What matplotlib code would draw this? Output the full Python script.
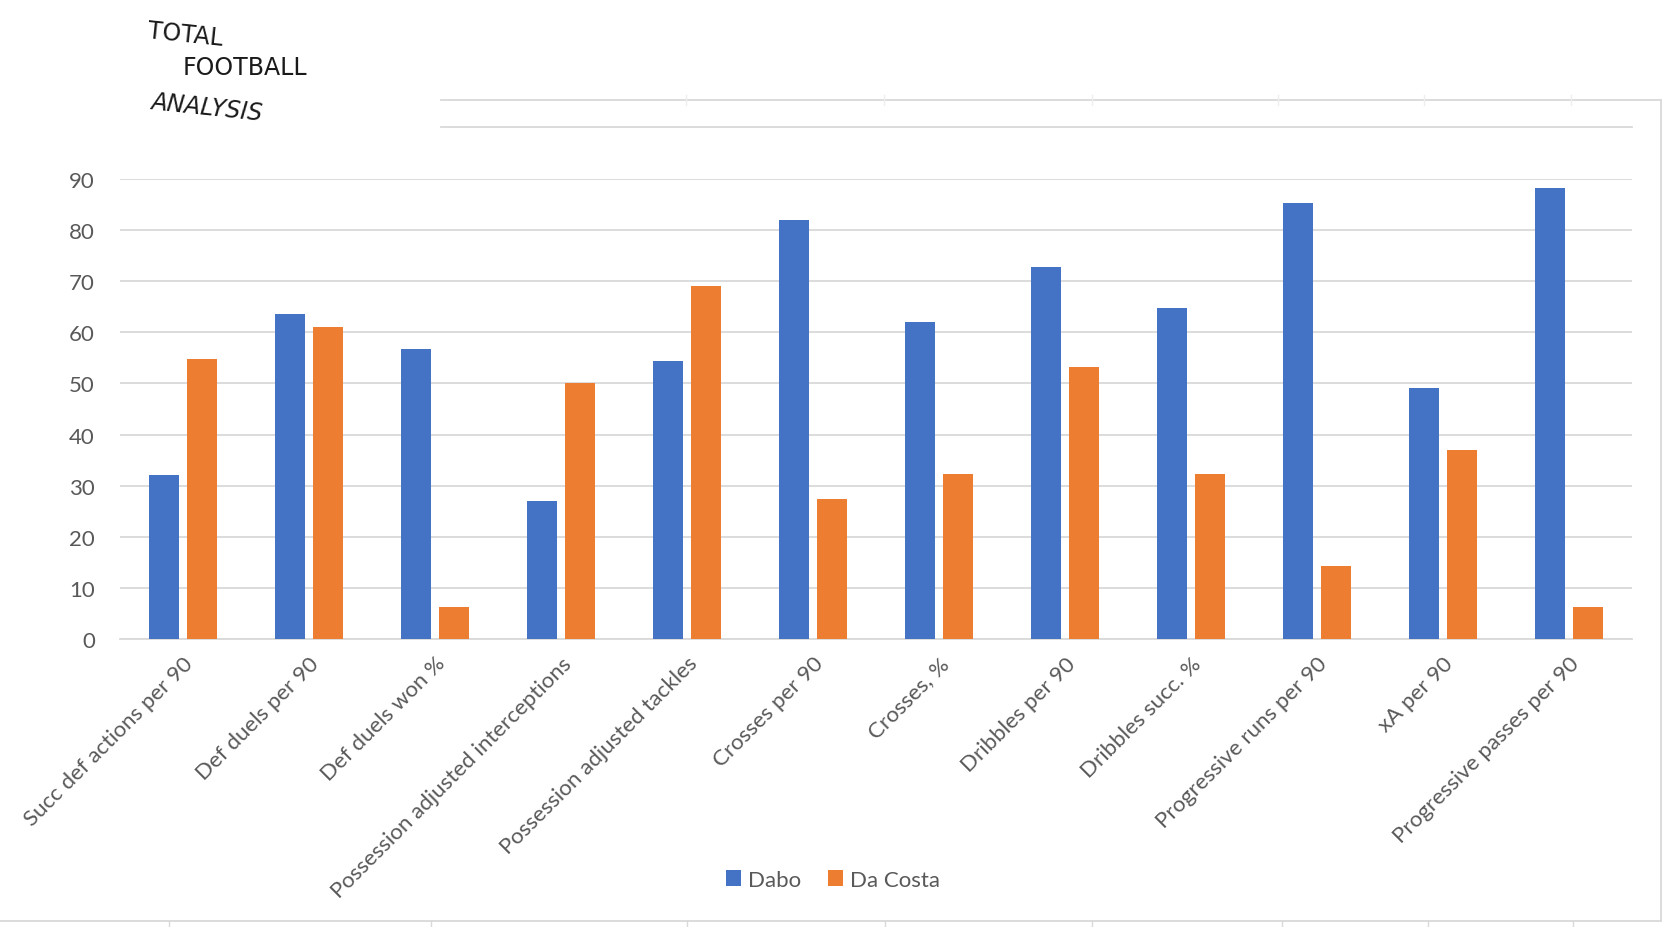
import matplotlib.pyplot as plt
import numpy as np
from matplotlib.lines import Line2D

categories = ['Succ def actions per 90', 'Def duels per 90', 'Def duels won %',
              'Possession adjusted interceptions', 'Possession adjusted tackles',
              'Crosses per 90', 'Crosses, %', 'Dribbles per 90', 'Dribbles succ. %',
              'Progressive runs per 90', 'xA per 90', 'Progressive passes per 90']
dabo = [32.1, 63.5, 56.8, 27.0, 54.4, 81.9, 62.0, 72.7, 64.7, 85.4, 49.2, 88.2]
da_costa = [54.8, 61.1, 6.3, 50.0, 69.1, 27.4, 32.2, 53.2, 32.2, 14.3, 36.9, 6.3]
yticks = [0, 10, 20, 30, 40, 50, 60, 70, 80, 90]

blue = '#4472C4'
orange = '#ED7D31'
txt = '#595959'
grid = '#d9d9d9'

plt.rcParams['font.family'] = ['Lato', 'DejaVu Sans']

fig = plt.figure(figsize=(16.64, 9.28), dpi=100)
ax = fig.add_axes([120 / 1664, 1 - 640 / 928, 1512 / 1664, 460 / 928])

x = np.arange(len(categories))
w = 0.238
off = 0.15
ax.bar(x - off, dabo, w, color=blue, label='Dabo', zorder=3)
ax.bar(x + off, da_costa, w, color=orange, label='Da Costa', zorder=3)

ax.set_xlim(-0.5, len(categories) - 0.5)
ax.set_ylim(0, 90)
ax.set_yticks(yticks)
ax.yaxis.grid(True, color=grid, linewidth=1.3, zorder=0)
ax.set_axisbelow(True)
for s in ['top', 'right', 'left']:
    ax.spines[s].set_visible(False)
ax.spines['bottom'].set_color(grid)
ax.spines['bottom'].set_linewidth(1.3)
ax.tick_params(axis='y', length=0, pad=18, labelsize=16, labelcolor=txt)
ax.tick_params(axis='x', length=0, pad=10)
ax.set_xticks(x)
ax.set_xticklabels(categories, rotation=45, ha='right', va='top',
                   rotation_mode='anchor', fontsize=16, color=txt)

fig.legend(loc='center', bbox_to_anchor=(833 / 1664, 1 - 881 / 928), ncol=2,
           frameon=False, fontsize=16, labelcolor=txt, handlelength=0.7,
           handleheight=0.7, handletextpad=0.3, columnspacing=1.2)

# frame remnants of the pasted chart picture
fig.add_artist(Line2D([441 / 1664, 1661 / 1664], [1 - 101 / 928] * 2, color=grid, lw=1.3))
fig.add_artist(Line2D([441 / 1664, 1632 / 1664], [1 - 128 / 928] * 2, color=grid, lw=1.3))
fig.add_artist(Line2D([1661 / 1664] * 2, [1 - 101 / 928, 1 - 922 / 928], color=grid, lw=1.3))
fig.add_artist(Line2D([0, 1661 / 1664], [1 - 922 / 928] * 2, color=grid, lw=1.3))
for px in [169, 431, 687, 885, 1092, 1282, 1428, 1573]:
    fig.add_artist(Line2D([px / 1664] * 2, [1 - 922 / 928, 0], color=grid, lw=1))
for px in [686, 884, 1092, 1278, 1424, 1571]:
    fig.add_artist(Line2D([px / 1664] * 2, [1 - 96 / 928, 1 - 106 / 928], color='#eeeeee', lw=1))

# logo
logo_font = ['Liberation Sans Narrow', 'DejaVu Sans']
fig.text(146 / 1664, 1 - 35 / 928, 'TOTAL', family=logo_font, fontsize=17,
         va='center', ha='left', color='#1a1a1a', rotation=-6)
fig.text(183 / 1664, 1 - 68 / 928, 'FOOTBALL', family=logo_font, fontsize=17,
         va='center', ha='left', color='#1a1a1a')
fig.text(150 / 1664, 1 - 108 / 928, 'ANALYSIS', family=logo_font, fontsize=17,
         va='center', ha='left', color='#1a1a1a', rotation=-6, style='italic')

fig.savefig('out.png', dpi=100, facecolor='white')
